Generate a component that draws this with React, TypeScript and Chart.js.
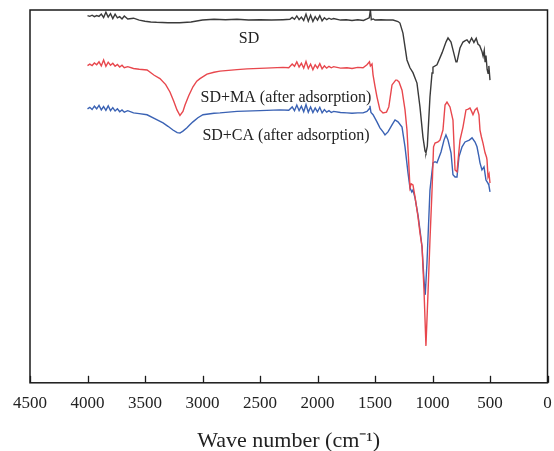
import React, { useEffect, useRef } from "react";
import { Chart, registerables } from "chart.js";

Chart.register(...registerables);

// SD (raw sawdust)
const sdWave = [4000,3980,3960,3940,3920,3900,3880,3860,3840,3820,3800,3780,3760,3740,3720,3700,3680,3650,3600,3550,3500,3450,3400,3300,3200,3100,3000,2900,2800,2700,2600,2500,2400,2300,2240,
  2220,2200,2180,2160,2140,2120,2100,2080,2060,2040,2020,2000,1980,1960,1940,1920,1900,1880,1860,
  1800,1750,1700,1650,1600,1570,1550,1540,1532,1515,1500,1450,1400,1343,1300,1283,1257,1222,1196,1170,1135,1109,1083,1065,1057,1045,1022,1004,996,961,917,883,865,839,822,796,787,761,735,715,700,680,660,640,620,604,590,570,560,550,543,535,525,517,510,500];
const sdValue = [98.5,98.3,98.6,98.2,98.5,98.3,98.9,98.0,99.4,98.1,99.0,97.7,98.9,97.9,98.2,97.6,98.4,97.6,97.8,97.3,97.0,96.8,96.7,96.6,96.6,96.8,97.3,97.5,97.4,97.5,97.3,97.4,97.3,97.4,97.5,
  98.0,97.5,98.4,97.4,98.1,97.2,98.9,97.0,98.6,96.9,98.2,97.3,98.5,97.1,97.9,97.4,97.8,97.5,97.7,
  97.3,97.4,97.2,97.4,97.2,97.6,97.9,100,97.4,97.6,97.3,97.4,97.3,97.3,96.9,96.5,93.8,86.6,84.5,83.2,80.4,74.0,65.9,62.2,61.7,63.5,76.7,83.1,84.7,85.3,88.5,91.4,92.5,91.4,89.3,86.1,86.1,89.8,91.4,91.8,92.0,91.2,92.5,91.3,92.4,90.8,90.5,88.9,87.6,89.2,86.2,87.8,84.1,83.0,85.0,81.2];

// SD+MA (after adsorption)
const maWave = [4000,3980,3960,3940,3920,3900,3880,3860,3840,3820,3800,3780,3760,3740,3720,3700,3680,3650,3600,3550,3482,3420,3370,3320,3283,3250,3222,3196,3170,3152,3120,3083,3050,3022,2961,2900,2848,2700,2613,2450,2300,2250,
  2220,2200,2180,2160,2140,2120,2100,2080,2060,2040,2020,2000,1980,1960,1940,1920,1900,1880,1860,
  1800,1744,1700,1650,1604,1570,1548,1540,1526,1517,1500,1483,1457,1430,1400,1380,1352,1320,1309,1291,1265,1239,1222,1205,1196,1185,1170,1152,1126,1109,1091,1074,1057,1039,1022,1004,991,978,952,935,909,891,874,848,822,804,787,761,735,709,690,674,660,648,630,613,596,587,575,561,543,530,526,517,508,500];
const maValue = [85.1,85.5,85.1,85.8,85.3,86.1,85.0,86.6,84.9,86.0,85.2,85.7,84.9,85.4,84.7,85.2,84.5,84.8,84.3,84.1,83.9,82.5,81.6,80.0,78.0,75.5,73.2,71.7,72.8,74.5,77.0,79.4,80.9,81.6,82.8,83.3,83.6,84.0,84.2,84.4,84.6,84.5,
  85.5,84.9,86.1,84.7,85.7,84.4,86.2,84.3,85.5,84.0,85.3,84.4,85.6,84.2,85.0,84.4,84.9,84.5,84.8,
  84.4,84.5,84.3,84.6,84.5,85.3,86.1,85.0,85.5,82.6,79.5,76.7,73.2,72.4,72.6,74.0,79.9,81.2,81.2,80.7,78.5,73.2,67.8,58.0,52.3,53.4,53.1,49.9,44.5,40.2,36.5,24.9,9.9,24.1,38.3,51.7,63.3,64.3,64.6,65.1,67.8,74.5,75.3,74.0,70.5,57.1,56.6,65.1,68.6,73.2,73.4,73.7,72.8,71.9,73.2,73.7,71.9,67.8,66.0,64.3,61.7,60.5,59.8,55.2,56.0,53.6];

// SD+CA (after adsorption)
const caWave = [4000,3980,3960,3940,3920,3900,3880,3860,3840,3820,3800,3780,3760,3740,3720,3700,3680,3650,3600,3550,3482,3420,3343,3300,3257,3220,3196,3170,3135,3110,3083,3040,2996,2900,2848,2700,2500,2326,2250,
  2220,2200,2180,2160,2140,2120,2100,2080,2060,2040,2020,2000,1980,1960,1940,1920,1900,1880,1860,
  1800,1744,1700,1650,1604,1570,1550,1544,1535,1517,1483,1457,1430,1413,1387,1352,1326,1300,1265,1239,1213,1196,1180,1170,1152,1126,1109,1091,1074,1063,1048,1022,996,978,961,926,900,883,865,839,822,804,787,770,743,717,680,656,630,613,596,587,570,552,535,517,510,500];
const caValue = [73.5,73.9,73.3,74.2,73.5,74.4,73.2,74.1,73.1,74.3,73.0,73.8,72.9,73.5,72.7,73.2,72.6,73.0,72.4,72.2,71.9,70.9,69.7,68.8,67.8,67.1,67.0,67.5,68.4,69.2,70.0,71.1,71.9,72.3,72.4,72.8,73.0,73.2,73.1,
  74.0,73.0,74.5,73.0,74.2,72.7,74.6,72.6,74.0,72.5,73.7,72.7,73.9,72.4,73.3,72.6,73.0,72.5,72.8,
  72.5,72.4,72.3,72.4,72.4,72.8,73.5,74.3,72.5,71.9,70.0,68.4,67.3,66.5,67.3,69.2,70.5,70.0,68.6,63.3,56.3,52.3,51.2,51.7,49.6,45.0,41.0,36.5,27.6,23.6,32.2,51.7,59.0,59.3,59.0,61.9,65.1,66.5,65.1,61.7,55.8,55.2,55.2,60.6,63.3,64.6,65.1,65.7,64.6,63.3,60.6,59.0,57.1,57.9,54.4,53.5,53.0,51.2];

const xMin = 0;
const xMax = 4500;
const xStep = 500;
const seriesNames = ["SD", "SD+MA (after adsorption)", "SD+CA (after adsorption)"];
const seriesColors = ["#3a3a3a", "#e8474d", "#3a62b4"];
const axisTitle = "Wave number (cm\u207B\u00B9)";

// in-plot labels (data coordinates)
const noteX = [2596, 2274, 2274];
const noteY = [92.3, 76.5, 66.3];

const SERIF = '"Liberation Serif", "Times New Roman", serif';

const framePlugin = {
  id: "frameAndNotes",
  afterDraw(chart: any) {
    const { ctx, chartArea, scales } = chart;
    const { left, right, top, bottom } = chartArea;
    const xs = scales.x;
    const ys = scales.y;
    ctx.save();
    ctx.strokeStyle = "#1a1a1a";
    ctx.lineWidth = 1.5;
    ctx.strokeRect(left, top, right - left, bottom - top);
    ctx.lineWidth = 1.3;
    xs.ticks.forEach((t: any) => {
      const px = Math.round(xs.getPixelForValue(t.value)) + 0.5;
      ctx.beginPath();
      ctx.moveTo(px, bottom);
      ctx.lineTo(px, bottom - 7);
      ctx.stroke();
    });
    ctx.fillStyle = "#222";
    ctx.font = `16px ${SERIF}`;
    ctx.textAlign = "center";
    ctx.textBaseline = "middle";
    seriesNames.forEach((name, i) => {
      ctx.fillText(name, xs.getPixelForValue(noteX[i]), ys.getPixelForValue(noteY[i]));
    });
    ctx.restore();
  },
};

function toPoints(w: number[], v: number[]) {
  return w.map((x, i) => ({ x, y: v[i] }));
}

export default function App() {
  const ref = useRef<HTMLCanvasElement | null>(null);
  useEffect(() => {
    document.body.style.margin = "0";
    const canvas = ref.current;
    if (!canvas) return;
    const series = [
      toPoints(sdWave, sdValue),
      toPoints(maWave, maValue),
      toPoints(caWave, caValue),
    ];
    const chart = new Chart(canvas, {
      type: "line",
      data: {
        datasets: series.map((d, i) => ({
          label: seriesNames[i],
          data: d,
          borderColor: seriesColors[i],
          borderWidth: 1.4,
          pointRadius: 0,
          tension: 0,
          fill: false,
        })),
      },
      options: {
        animation: false,
        responsive: false,
        layout: { padding: { left: 30, right: 6.5, top: 10, bottom: 0 } },
        plugins: {
          legend: { display: false },
          tooltip: { enabled: false },
        },
        scales: {
          x: {
            type: "linear",
            reverse: true,
            min: xMin,
            max: xMax,
            grid: { display: false, drawTicks: false },
            border: { display: false },
            afterFit: (scale: any) => {
              scale.paddingLeft = 0;
              scale.paddingRight = 0;
            },
            ticks: {
              stepSize: xStep,
              autoSkip: false,
              maxRotation: 0,
              padding: 11,
              color: "#222",
              font: { family: SERIF, size: 17 },
              callback: (v: any) => String(v),
            },
            title: {
              display: true,
              text: axisTitle,
              color: "#222",
              font: { family: SERIF, size: 22, lineHeight: 0.9 },
              padding: { top: 6, bottom: 0 },
            },
          },
          y: {
            display: false,
            min: 0,
            max: 100,
          },
        },
      },
      plugins: [framePlugin],
    });
    return () => chart.destroy();
  }, []);
  return (
    <div style={{ width: 554, height: 451, background: "#fff" }}>
      <canvas ref={ref} width={554} height={451} style={{ display: "block" }} />
    </div>
  );
}
